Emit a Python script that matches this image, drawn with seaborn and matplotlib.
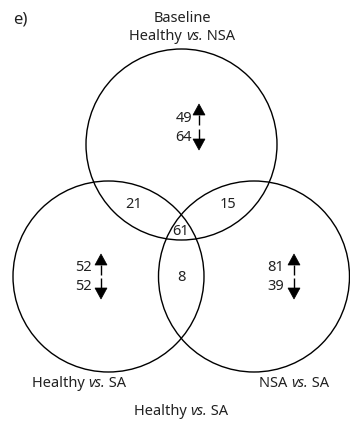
import matplotlib
matplotlib.use("Agg")
import matplotlib.pyplot as plt
from matplotlib.patches import Circle, Polygon
import seaborn as sns

sns.set_theme(style="white")
plt.rcParams['font.family'] = ['Noto Sans', 'DejaVu Sans']

# Venn set labels: (plain, italic, plain) pieces
set_titles = [("Healthy ", "vs.", " NSA"), ("Healthy ", "vs.", " SA"),
              ("NSA ", "vs.", " SA")]
# genes unique to each comparison: up / down
up_counts = [49, 52, 81]
down_counts = [64, 52, 39]
# overlaps: top-left, top-right, left-right, all three
overlap_counts = [21, 15, 8, 61]

fig = plt.figure(figsize=(3.5, 4.27), dpi=100)
ax = fig.add_axes([0, 0, 1, 1])
ax.set_xlim(0, 350)
ax.set_ylim(427, 0)
ax.axis("off")

centers = [(181.5, 145.5), (108.5, 277.5), (254, 277.5)]
radius = 95.5
for c in centers:
    ax.add_patch(Circle(c, radius, fill=False, lw=1.0, ec="black"))

fs = 10.5
col = "#222222"
hw = 6.0  # half width of arrow head
renderer = fig.canvas.get_renderer()


def arrow(x, y_tip, y_base, y_tail):
    # thin stem plus solid triangular head
    ax.plot([x, x], [y_base, y_tail], color="black", lw=1.0, solid_capstyle="butt")
    ax.add_patch(Polygon([(x - hw, y_base), (x + hw, y_base), (x, y_tip)],
                         closed=True, fc="black", ec="black", lw=0.5))


def mixed_label(xc, y, pieces):
    # centred label whose middle piece is italic
    styles = ["normal", "italic", "normal"]
    arts = [ax.text(0, y, p, ha="left", va="center", fontsize=fs, color=col,
                    style=s) for p, s in zip(pieces, styles)]
    widths = [a.get_window_extent(renderer).width for a in arts]
    x = xc - sum(widths) / 2
    for a, w in zip(arts, widths):
        a.set_x(x)
        x += w


unique_pos = [(192, 118, 138, 199), (92, 268, 287, 101), (284, 268, 287, 294)]
for (xr, yu, yd, xa), u, d in zip(unique_pos, up_counts, down_counts):
    ax.text(xr, yu, str(u), ha="right", va="center", fontsize=fs, color=col)
    ax.text(xr, yd, str(d), ha="right", va="center", fontsize=fs, color=col)
    arrow(xa, yu - 13, yu - 2, yu + 8)
    arrow(xa, yd + 13, yd + 2, yd - 8)

overlap_pos = [(134, 205), (228, 205), (181, 278), (181, 232)]
for (x, y), n in zip(overlap_pos, overlap_counts):
    ax.text(x, y, str(n), ha="center", va="center", fontsize=fs, color=col)

ax.text(20, 20, "e)", ha="center", va="center", fontsize=fs + 1.5, color=col)
ax.text(182, 18, "Baseline", ha="center", va="center", fontsize=fs, color=col)
mixed_label(182, 37, set_titles[0])
mixed_label(79, 384, set_titles[1])
mixed_label(294, 384, set_titles[2])
mixed_label(181, 412, set_titles[1])

fig.savefig("out.png", dpi=100, facecolor="white")
